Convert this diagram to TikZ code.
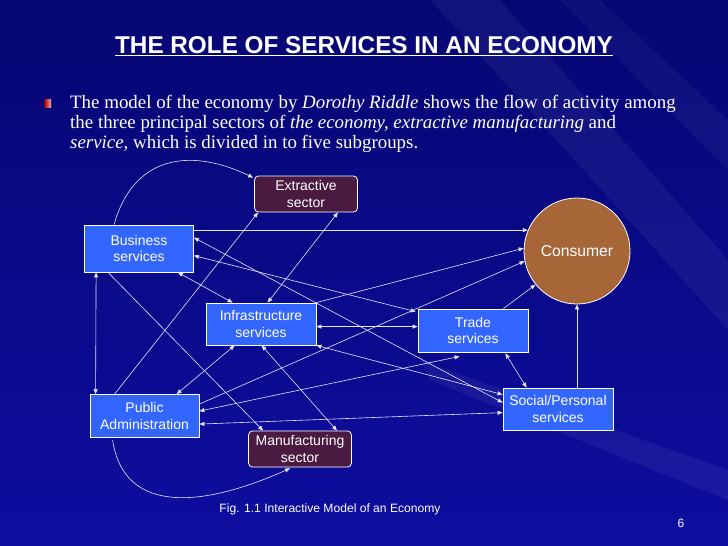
\documentclass[tikz,border=0pt]{standalone}
\usepackage{fontspec}
\setmainfont{Liberation Serif}
\setsansfont{Liberation Sans}
\usetikzlibrary{arrows.meta}

\definecolor{slidedark}{RGB}{6,6,115}
\definecolor{slidemid}{RGB}{14,14,160}
\definecolor{boxblue}{RGB}{51,102,255}
\definecolor{sectorplum}{RGB}{74,26,64}
\definecolor{consbrown}{RGB}{166,102,56}

\tikzset{
  svcbox/.style={draw=white, fill=boxblue, line width=0.8pt, text=white, align=center,
    inner sep=0pt, font=\sffamily\fontsize{14}{16.8}\selectfont},
  sectorbox/.style={svcbox, fill=sectorplum, rounded corners=4pt},
  link/.style={draw=white!90!blue, line width=0.6pt},
  >={Triangle[length=5pt,width=4pt]}
}

\begin{document}
\begin{tikzpicture}[x=1pt,y=-1pt]
	% slide background
	\shade[top color=slidedark, bottom color=slidemid] (0,0) rectangle (728,546);
	\useasboundingbox (0,0) rectangle (728,546);
	\fill[white, opacity=0.05] (430,0) -- (500,0) -- (728,260) -- (728,330) -- cycle;
	\fill[white, opacity=0.04] (560,0) -- (600,0) -- (728,120) -- (728,170) -- cycle;
	\fill[white, opacity=0.05] (420,360) -- (728,470) -- (728,500) -- (430,380) -- cycle;

	% title and bullet text
	\node[text=white, font=\sffamily\bfseries\fontsize{24.3}{28}\selectfont] (title) at (364,46) {\underline{THE ROLE OF SERVICES IN AN ECONOMY}};
	\shade[left color=red!55!black, right color=red!35!white] (44,99) rectangle (51,107);
	\node[anchor=north west, text=white, align=left, inner sep=0pt, font=\fontsize{18.9}{20}\selectfont] (intro) at (70,95)
		{The model of the economy by \textit{Dorothy Riddle} shows the flow of activity among\\
		the three principal sectors of \textit{the economy, extractive manufacturing} and\\
		\textit{service,} which is divided in to five subgroups.};

	% sectors
	\node[sectorbox, minimum width=103pt, minimum height=36pt] (ext) at (306,194) {Extractive\\sector};
	\node[sectorbox, minimum width=103pt, minimum height=36pt] (manu) at (300,449) {Manufacturing\\sector};
	\node[svcbox, minimum width=109pt, minimum height=47pt] (biz) at (139,248.5) {Business\\services};
	\node[svcbox, minimum width=110pt, minimum height=42pt] (infra) at (261,324) {Infrastructure\\services};
	\node[svcbox, minimum width=110pt, minimum height=43pt] (trade) at (473,330.5) {Trade\\services};
	\node[svcbox, minimum width=109pt, minimum height=43pt] (pub) at (144.5,416) {Public\\Administration};
	\node[svcbox, minimum width=110pt, minimum height=42pt] (soc) at (558,409) {Social/Personal\\services};
	\node[circle, draw=white, line width=0.8pt, fill=consbrown, text=white, minimum size=106pt,
		font=\sffamily\fontsize{15.7}{18}\selectfont] (cons) at (577,251) {Consumer};

	% flows
	\draw[link,->] ([shift={(30,0)}]biz.north west) .. controls (132,160) and (185,145) .. ([shift={(-1,2)}]ext.north west);
	\draw[link,->] (biz.east |- cons.157) -- (cons.157);
	\draw[link,<->] ([shift={(0,13)}]biz.north east) -- ([shift={(0,15)}]soc.north west);
	\draw[link,<->] ([shift={(0,31)}]biz.north east) -- ([shift={(-2,3)}]trade.north west);
	\draw[link,<->] ([shift={(-16,0)}]biz.south east) -- ([shift={(27,0)}]infra.north west);
	\draw[link,->] ([shift={(24,0)}]biz.south west) -- ([shift={(15,0)}]manu.north west);
	\draw[link,<->] ([shift={(12,0)}]biz.south west) -- ([shift={(6,0)}]pub.north west);
	\draw[link,->] ([shift={(25,0)}]pub.north west) -- ([shift={(4,0)}]ext.south west);
	\draw[link,<->] ([shift={(-20,0)}]ext.south east) -- ([shift={(62,0)}]infra.north west);
	\draw[link,<->] ([shift={(29,0)}]infra.south west) -- ([shift={(87,0)}]pub.north west);
	\draw[link,<->] ([shift={(56,0)}]infra.south west) -- ([shift={(-15,0)}]manu.north east);
	\draw[link,<->] ([shift={(0,24)}]infra.north east) -- ([shift={(0,18)}]trade.north west);
	\draw[link,->] (infra.north east) -- (cons.177);
	\draw[link,<->] (infra.south east) -- ([shift={(0,7)}]soc.north west);
	\draw[link,->] ([shift={(0,10)}]pub.north east) -- (cons.191);
	\draw[link,<->] ([shift={(0,17)}]pub.north east) -- ([shift={(42,4)}]trade.south west);
	\draw[link,<->] ([shift={(0,30)}]pub.north east) -- ([shift={(0,25)}]soc.north west);
	\draw[link,->] ([shift={(23,2)}]pub.south west) .. controls (122,505) and (185,515) .. ([shift={(42,1)}]manu.south west);
	\draw[link,->] ([shift={(-25,0)}]trade.north east) -- (cons.219);
	\draw[link,<->] ([shift={(-23,1)}]trade.south east) -- ([shift={(24,0)}]soc.north west);
	\draw[link,->] (cons.south |- soc.north) -- (cons.south);

	% caption
	\node[text=white, font=\sffamily\fontsize{12.1}{14}\selectfont] (caption) at (330,509) {Fig. 1.1 Interactive Model of an Economy};
	\node[text=white, font=\sffamily\fontsize{12}{14}\selectfont] (pagenum) at (681,523) {6};
\end{tikzpicture}
\end{document}
